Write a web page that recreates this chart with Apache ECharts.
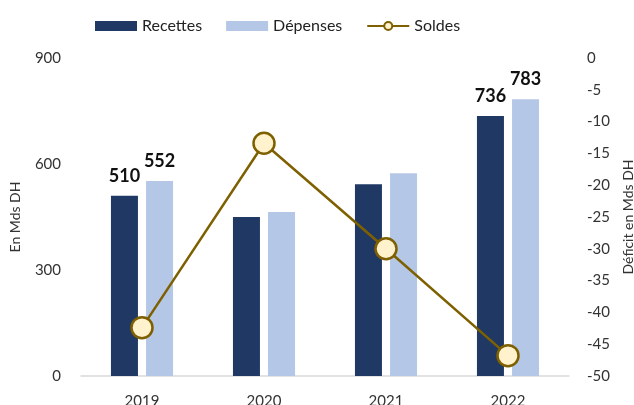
<!DOCTYPE html>
<html>
<head>
<meta charset="utf-8">
<script src="https://cdn.jsdelivr.net/npm/echarts@6/dist/echarts.min.js"></script>
<style>
  html, body { margin: 0; padding: 0; background: #fff; }
  #chart { width: 634px; height: 405px; }
</style>
</head>
<body>
<div id="chart"></div>
<script>
var years = ['2019', '2020', '2021', '2022'];
var recettes = [510, 450, 543, 736];
var depenses = [552, 464, 574, 783];
var soldes = [-42.4, -13.4, -30.0, -46.8];
var labelled = [0, 3]; // only first and last years carry value labels

var fontName = 'Lato';

function withLabels(arr) {
    return arr.map(function (v, i) {
        return {
            value: v,
            label: { show: labelled.indexOf(i) >= 0 }
        };
    });
}

var chart = echarts.init(document.getElementById('chart'));
chart.setOption({
    animation: false,
    textStyle: { fontFamily: fontName },
    legend: {
        top: 18,
        left: 95,
        padding: 0,
        itemGap: 24,
        itemWidth: 42,
        itemHeight: 10,
        textStyle: { fontSize: 16, color: '#222', fontFamily: fontName },
        data: [
            { name: 'Recettes', icon: 'rect' },
            { name: 'Dépenses', icon: 'rect' },
            { name: 'Soldes' }
        ]
    },
    grid: { left: 81, right: 65, top: 58, bottom: 29, outerBoundsMode: 'none', containLabel: false },
    xAxis: {
        type: 'category',
        data: years,
        axisLine: { lineStyle: { color: '#d9d9d9', width: 1.5 } },
        axisTick: { show: false },
        axisLabel: { color: '#333', fontSize: 15, margin: 18 }
    },
    yAxis: [
        {
            type: 'value',
            min: 0, max: 900, interval: 300,
            name: 'En Mds DH',
            nameLocation: 'middle',
            nameGap: 59,
            nameTextStyle: { color: '#333', fontSize: 14 },
            splitLine: { show: false },
            axisLine: { show: false },
            axisTick: { show: false },
            axisLabel: { color: '#333', fontSize: 15, margin: 20 }
        },
        {
            type: 'value',
            min: -50, max: 0, interval: 5,
            name: 'Déficit en Mds DH',
            nameLocation: 'middle',
            nameGap: 52,
            nameRotate: 90,
            nameTextStyle: { color: '#333', fontSize: 14 },
            splitLine: { show: false },
            axisLine: { show: false },
            axisTick: { show: false },
            axisLabel: { color: '#333', fontSize: 15, margin: 18, align: 'left' }
        }
    ],
    series: [
        {
            name: 'Recettes',
            type: 'bar',
            barWidth: 27,
            barGap: '30%',
            itemStyle: { color: '#1f3864' },
            label: { position: 'top', distance: 11, color: '#111', fontSize: 18, fontWeight: 'bold' },
            data: withLabels(recettes)
        },
        {
            name: 'Dépenses',
            type: 'bar',
            barWidth: 27,
            itemStyle: { color: '#b4c7e7' },
            label: { position: 'top', distance: 11, color: '#111', fontSize: 18, fontWeight: 'bold' },
            data: withLabels(depenses)
        },
        {
            name: 'Soldes',
            type: 'line',
            yAxisIndex: 1,
            symbol: 'circle',
            symbolSize: 21,
            lineStyle: { color: '#7f6000', width: 2.5 },
            itemStyle: { color: '#fff2cc', borderColor: '#7f6000', borderWidth: 2.5 },
            data: soldes
        }
    ]
});
</script>
</body>
</html>
